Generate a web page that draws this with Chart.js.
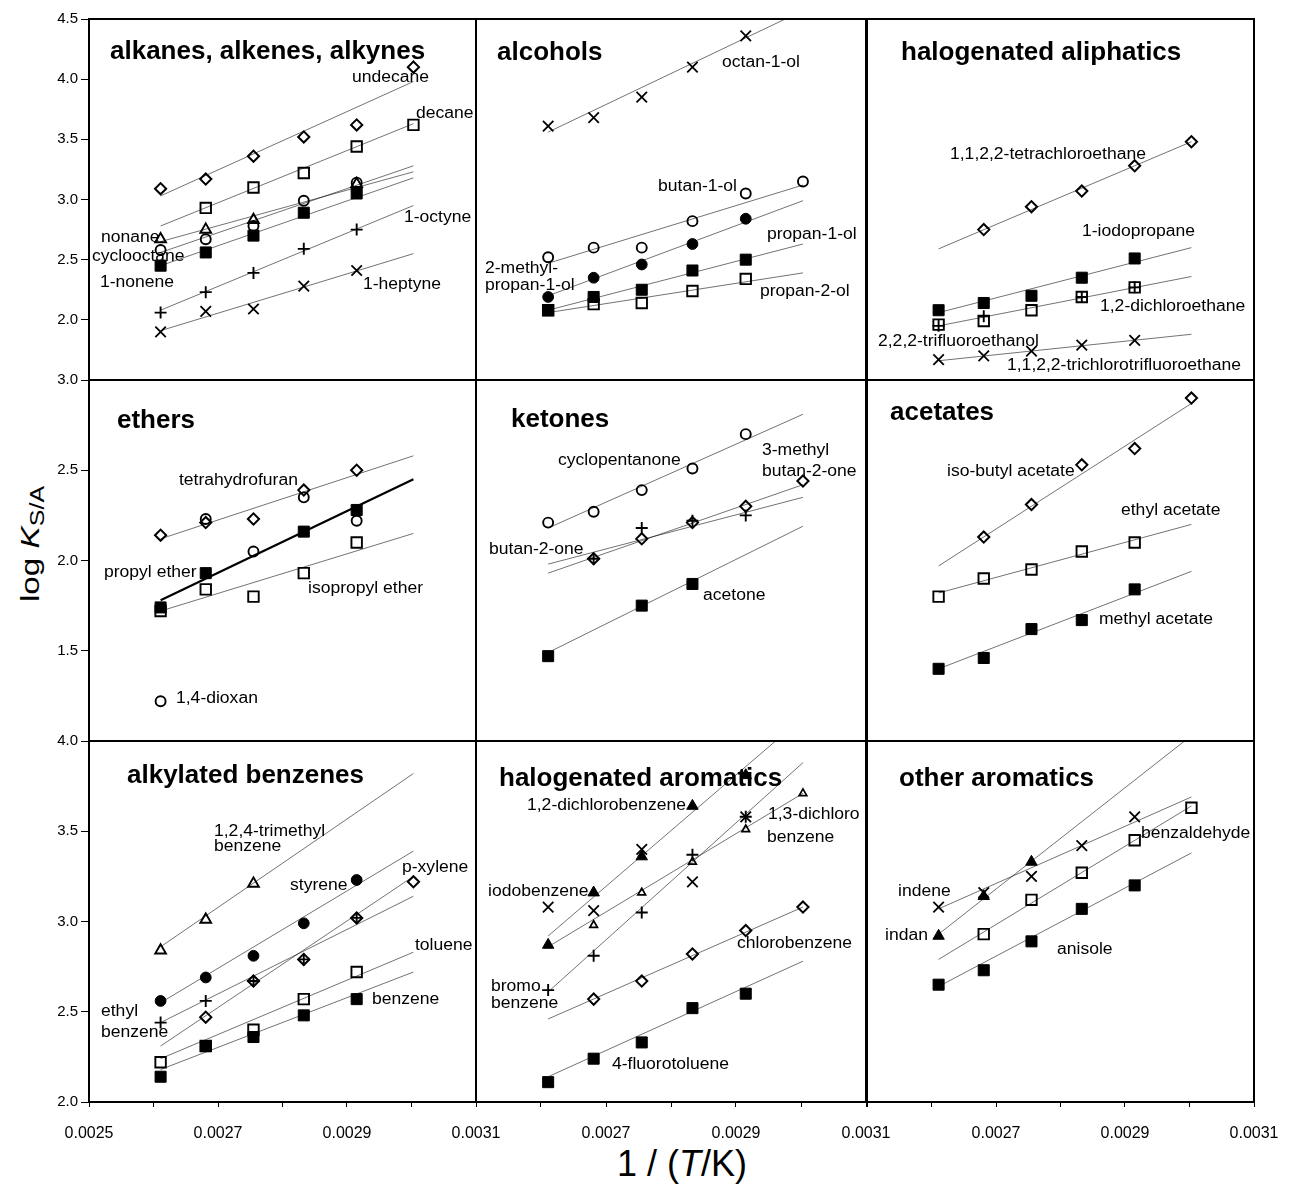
<!DOCTYPE html>
<html>
<head>
<meta charset="utf-8">
<script src="https://cdn.jsdelivr.net/npm/chart.js@4/dist/chart.umd.min.js"></script>
<style>
  body { margin: 0; background: #fff; width: 1289px; height: 1188px; position: relative; overflow: hidden;
         font-family: "Liberation Sans", Arial, sans-serif; color: #000; }
  canvas { position: absolute; }
  #ytitle { position: absolute; left: 32px; top: 544px; font-size: 26px; line-height: 1; white-space: nowrap;
            transform: translate(-50%, -50%) rotate(-90deg) scaleX(1.28); }
  #ytitle sub { font-size: 0.75em; vertical-align: -0.25em; }
  #xtitle { position: absolute; left: 682px; top: 1164px; font-size: 36px; line-height: 1; white-space: nowrap;
            transform: translate(-50%, -50%); }
</style>
</head>
<body>
<div id="ytitle">log <i>K</i><sub>S/A</sub></div>
<div id="xtitle">1 / (<i>T</i>/K)</div>
<script>
/* ── axis values ──────────────────────────────────────────────────── */
// 1/T for the six measuring temperatures (383 K … 333 K)
const invT        = [0.002611, 0.002681, 0.002755, 0.002833, 0.002915, 0.003003];
const xTickValues = [0.0025, 0.0026, 0.0027, 0.0028, 0.0029, 0.0030, 0.0031];
const xTickLabels = ['0.0025', '', '0.0027', '', '0.0029', '', '0.0031'];
const yTicksTop   = [1.5, 2.0, 2.5, 3.0, 3.5, 4.0, 4.5];
const yTicksMid   = [1.0, 1.5, 2.0, 2.5, 3.0];
const yTicksBot   = [2.0, 2.5, 3.0, 3.5, 4.0];

/* ── log K values (null = not measured); fits = [at first T, at last T] ── */
// alkanes, alkenes, alkynes
const undecane       = [3.09, 3.17, 3.36, 3.52, 3.62, 4.10];
const decane         = [null, 2.93, 3.10, 3.22, 3.44, 3.62];
const nonane         = [2.67, 2.75, 2.83, null, 3.13, null];
const cyclooctane    = [2.58, 2.67, 2.78, 2.99, 3.14, null];
const nonene1        = [2.45, 2.56, 2.70, 2.89, 3.05, null];
const octyne1        = [2.06, 2.23, 2.39, 2.59, 2.75, null];
const heptyne1       = [1.90, 2.07, 2.09, 2.28, 2.41, null];
const undecaneFit    = [3.03, 3.98];
const decaneFit      = [2.78, 3.63];
const nonaneFit      = [2.65, 3.23];
const cyclooctaneFit = [2.56, 3.28];
const nonene1Fit     = [2.45, 3.18];
const octyne1Fit     = [2.08, 2.95];
const heptyne1Fit    = [1.91, 2.55];

// alcohols
const octanol1          = [3.61, 3.68, 3.85, 4.10, 4.36, null];
const butanol1          = [2.52, 2.60, 2.60, 2.82, 3.05, 3.15];
const methylpropanol    = [2.19, 2.35, 2.46, 2.63, 2.84, null];
const propanol1         = [2.08, 2.19, 2.25, 2.41, 2.50, null];
const propanol2         = [2.08, 2.13, 2.14, 2.24, 2.34, null];
const octanol1Fit       = [3.56, 4.57];
const butanol1Fit       = [2.47, 3.12];
const methylpropanolFit = [2.20, 2.99];
const propanol1Fit      = [2.08, 2.63];
const propanol2Fit      = [2.06, 2.39];

// halogenated aliphatics
const tetrachloroethane     = [null, 2.75, 2.94, 3.07, 3.28, 3.48];
const iodopropane           = [2.08, 2.14, 2.20, 2.35, 2.51, null];
const dichloroethane        = [1.96, 1.99, 2.08, 2.19, 2.27, null];
const trifluoroethanol      = [1.95, 2.03, null, 2.19, 2.27, null];
const trichlorotrifluoro    = [1.67, 1.70, 1.74, 1.79, 1.83, null];
const tetrachloroethaneFit  = [2.59, 3.48];
const iodopropaneFit        = [2.06, 2.60];
const dichloroethaneFit     = [1.95, 2.36];
const trichlorotrifluoroFit = [1.66, 1.88];

// ethers
const thf               = [2.14, 2.21, 2.23, 2.39, 2.50, null];
const dioxan            = [1.22, 2.23, 2.05, 2.35, 2.22, null];
const propylEther       = [1.74, 1.93, null, 2.16, 2.28, null];
const isopropylEther    = [1.72, 1.84, 1.80, 1.93, 2.10, null];
const thfFit            = [2.12, 2.58];
const propylEtherFit    = [1.78, 2.45];
const isopropylEtherFit = [1.72, 2.15];

// ketones
const cyclopentanone    = [2.21, 2.27, 2.39, 2.51, 2.70, null];
const methylbutanone    = [null, 2.01, 2.12, 2.21, 2.30, 2.44];
const butanone          = [null, 2.01, 2.18, 2.22, 2.25, null];
const acetone           = [1.47, null, 1.75, 1.87, null, null];
const cyclopentanoneFit = [2.18, 2.81];
const methylbutanoneFit = [1.93, 2.42];
const butanoneFit       = [1.98, 2.35];
const acetoneFit        = [1.49, 2.19];

// acetates
const isobutylAcetate    = [null, 2.13, 2.31, 2.53, 2.62, 2.90];
const ethylAcetate       = [1.80, 1.90, 1.95, 2.05, 2.10, null];
const methylAcetate      = [1.40, 1.46, 1.62, 1.67, 1.84, null];
const isobutylAcetateFit = [1.97, 2.87];
const ethylAcetateFit    = [1.82, 2.20];
const methylAcetateFit   = [1.40, 1.94];

// alkylated benzenes
const trimethylbenzene    = [2.84, 3.01, 3.21, null, null, null];
const styrene             = [2.56, 2.69, 2.81, 2.99, 3.23, null];
const ethylbenzene        = [2.44, 2.56, 2.67, 2.79, 3.02, null];
const pXylene             = [null, 2.47, 2.67, 2.79, 3.02, 3.22];
const toluene             = [2.22, 2.31, 2.40, 2.57, 2.72, null];
const benzene             = [2.14, 2.31, 2.36, 2.48, 2.57, null];
const trimethylbenzeneFit = [2.86, 3.82];
const styreneFit          = [2.55, 3.39];
const ethylbenzeneFit     = [2.44, 3.14];
const pXyleneFit          = [2.31, 3.25];
const tolueneFit          = [2.24, 2.83];
const benzeneFit          = [2.18, 2.72];

// halogenated aromatics
const dichlorobenzene12    = [2.87, 3.16, 3.36, 3.64, 3.81, null];
const dichlorobenzene13    = [null, 2.98, 3.16, 3.33, 3.51, 3.71];
const iodobenzene          = [3.08, 3.06, 3.40, 3.22, 3.58, null];
const bromobenzene         = [2.62, 2.81, 3.05, 3.37, 3.58, null];
const chlorobenzene        = [null, 2.57, 2.67, 2.82, 2.95, 3.08];
const fluorotoluene        = [2.11, 2.24, 2.33, 2.52, 2.60, null];
const dichlorobenzene12Fit = [2.92, 4.13];
const dichlorobenzene13Fit = [2.86, 3.71];
const bromobenzeneFit      = [2.61, 3.88];
const chlorobenzeneFit     = [2.46, 3.08];
const fluorotolueneFit     = [2.14, 2.78];

// other aromatics
const indene          = [3.08, 3.16, 3.25, 3.42, 3.58, null];
const indan           = [2.92, 3.14, 3.33, null, null, null];
const benzaldehyde    = [null, 2.93, 3.12, 3.27, 3.45, 3.63];
const anisole         = [2.65, 2.73, 2.89, 3.07, 3.20, null];
const indeneFit       = [3.07, 3.69];
const indanFit        = [2.93, 4.03];
const benzaldehydeFit = [2.79, 3.64];
const anisoleFit      = [2.64, 3.38];

/* ── marker looks ─────────────────────────────────────────────────── */
const MARKS = {
  diamond: { style: 'rectRot',  r: 5.6, bw: 2.0, fill: false },
  square:  { style: 'rect',     r: 7.4, bw: 1.9, fill: false },
  squareF: { style: 'rect',     r: 7.8, bw: 1,   fill: true  },
  circle:  { style: 'circle',   r: 5.0, bw: 1.9, fill: false },
  circleF: { style: 'circle',   r: 5.4, bw: 1,   fill: true  },
  tri:     { style: 'triangle', r: 6.2, bw: 1.9, fill: false },
  triS:    { style: 'triangle', r: 4.4, bw: 1.7, fill: false },
  triF:    { style: 'triangle', r: 6.6, bw: 1,   fill: true  },
  plus:    { style: 'cross',    r: 6.0, bw: 1.9, fill: false },
  ex:      { style: 'crossRot', r: 7.4, bw: 1.8, fill: false }
};

/* ── panels ───────────────────────────────────────────────────────── */
const PANELS = [
  { row: 0, col: 0, title: 'alkanes, alkenes, alkynes', tpos: [21, 33],
    series: [
      { d: undecane, mk: 'diamond', fit: undecaneFit },
      { d: decane, mk: 'square', fit: decaneFit },
      { d: nonane, mk: 'tri', fit: nonaneFit },
      { d: cyclooctane, mk: 'circle', fit: cyclooctaneFit },
      { d: nonene1, mk: 'squareF', fit: nonene1Fit },
      { d: octyne1, mk: 'plus', fit: octyne1Fit },
      { d: heptyne1, mk: 'ex', fit: heptyne1Fit }],
    labels: [['undecane', 263, 59], ['decane', 327, 95], ['1-octyne', 315, 199], ['nonane', 12, 219],
             ['cyclooctane', 3, 238], ['1-nonene', 11, 264], ['1-heptyne', 274, 266]] },
  { row: 0, col: 1, title: 'alcohols', tpos: [21, 34],
    series: [
      { d: octanol1, mk: 'ex', fit: octanol1Fit },
      { d: butanol1, mk: 'circle', fit: butanol1Fit },
      { d: methylpropanol, mk: 'circleF', fit: methylpropanolFit },
      { d: propanol1, mk: 'squareF', fit: propanol1Fit },
      { d: propanol2, mk: 'square', fit: propanol2Fit }],
    labels: [['octan-1-ol', 246, 44], ['butan-1-ol', 182, 168], ['propan-1-ol', 291, 216],
             ['2-methyl-', 9, 250], ['propan-1-ol', 9, 267], ['propan-2-ol', 284, 273]] },
  { row: 0, col: 2, title: 'halogenated aliphatics', tpos: [34, 34],
    series: [
      { d: tetrachloroethane, mk: 'diamond', fit: tetrachloroethaneFit },
      { d: iodopropane, mk: 'squareF', fit: iodopropaneFit },
      { d: trifluoroethanol, mk: 'plus' },
      { d: dichloroethane, mk: 'square', fit: dichloroethaneFit },
      { d: trichlorotrifluoro, mk: 'ex', fit: trichlorotrifluoroFit }],
    labels: [['1,1,2,2-tetrachloroethane', 83, 136], ['1-iodopropane', 215, 213], ['1,2-dichloroethane', 233, 288],
             ['2,2,2-trifluoroethanol', 11, 323], ['1,1,2,2-trichlorotrifluoroethane', 140, 347]] },
  { row: 1, col: 0, title: 'ethers', tpos: [28, 41],
    series: [
      { d: thf, mk: 'diamond', fit: thfFit },
      { d: dioxan, mk: 'circle' },
      { d: propylEther, mk: 'squareF', fit: propylEtherFit, bold: true },
      { d: isopropylEther, mk: 'square', fit: isopropylEtherFit }],
    labels: [['tetrahydrofuran', 90, 101], ['propyl ether', 15, 193], ['isopropyl ether', 219, 209], ['1,4-dioxan', 87, 319]] },
  { row: 1, col: 1, title: 'ketones', tpos: [35, 40],
    series: [
      { d: cyclopentanone, mk: 'circle', fit: cyclopentanoneFit },
      { d: methylbutanone, mk: 'diamond', fit: methylbutanoneFit },
      { d: butanone, mk: 'plus', fit: butanoneFit },
      { d: acetone, mk: 'squareF', fit: acetoneFit }],
    labels: [['cyclopentanone', 82, 81], ['3-methyl', 286, 71], ['butan-2-one', 286, 92],
             ['butan-2-one', 13, 170], ['acetone', 227, 216]] },
  { row: 1, col: 2, title: 'acetates', tpos: [23, 33],
    series: [
      { d: isobutylAcetate, mk: 'diamond', fit: isobutylAcetateFit },
      { d: ethylAcetate, mk: 'square', fit: ethylAcetateFit },
      { d: methylAcetate, mk: 'squareF', fit: methylAcetateFit }],
    labels: [['iso-butyl acetate', 80, 92], ['ethyl acetate', 254, 131], ['methyl acetate', 232, 240]] },
  { row: 2, col: 0, title: 'alkylated benzenes', tpos: [38, 35],
    series: [
      { d: trimethylbenzene, mk: 'tri', fit: trimethylbenzeneFit },
      { d: styrene, mk: 'circleF', fit: styreneFit },
      { d: ethylbenzene, mk: 'plus', fit: ethylbenzeneFit },
      { d: pXylene, mk: 'diamond', fit: pXyleneFit },
      { d: benzene, mk: 'squareF', fit: benzeneFit },
      { d: toluene, mk: 'square', fit: tolueneFit }],
    labels: [['1,2,4-trimethyl', 125, 91], ['benzene', 125, 106], ['styrene', 201, 145], ['p-xylene', 313, 127],
             ['toluene', 326, 205], ['benzene', 283, 259], ['ethyl', 12, 271], ['benzene', 12, 292]] },
  { row: 2, col: 1, title: 'halogenated aromatics', tpos: [23, 38],
    series: [
      { d: dichlorobenzene12, mk: 'triF', fit: dichlorobenzene12Fit },
      { d: iodobenzene, mk: 'ex' },
      { d: bromobenzene, mk: 'plus', fit: bromobenzeneFit },
      { d: dichlorobenzene13, mk: 'triS', fit: dichlorobenzene13Fit },
      { d: chlorobenzene, mk: 'diamond', fit: chlorobenzeneFit },
      { d: fluorotoluene, mk: 'squareF', fit: fluorotolueneFit }],
    labels: [['1,2-dichlorobenzene', 51, 65], ['1,3-dichloro', 292, 74], ['benzene', 291, 97], ['iodobenzene', 12, 151],
             ['bromo', 15, 246], ['benzene', 15, 263], ['chlorobenzene', 261, 203], ['4-fluorotoluene', 136, 324]] },
  { row: 2, col: 2, title: 'other aromatics', tpos: [32, 38],
    series: [
      { d: indene, mk: 'ex', fit: indeneFit },
      { d: indan, mk: 'triF', fit: indanFit },
      { d: benzaldehyde, mk: 'square', fit: benzaldehydeFit },
      { d: anisole, mk: 'squareF', fit: anisoleFit }],
    labels: [['indene', 31, 151], ['indan', 18, 195], ['benzaldehyde', 274, 93], ['anisole', 190, 209]] }
];

/* ── page geometry ────────────────────────────────────────────────── */
const colLeft = [89, 476, 867], colWidth = [387, 390, 387];
const rowTop = [19, 380, 741], rowHeight = [361, 361, 361];
const ML = 70, MT = 12, MR = 34, MB = 55;
const FONT = '"Liberation Sans", Arial, Helvetica, sans-serif';

Chart.defaults.font.family = FONT;
Chart.defaults.color = '#000';

// panel title, compound labels (under the marks) and the black frame
const decoPlugin = {
  id: 'deco',
  beforeDatasetsDraw(chart) {
    const p = PANELS[+chart.canvas.id.slice(1)];
    const a = chart.chartArea, ctx = chart.ctx;
    ctx.save();
    ctx.fillStyle = '#000';
    ctx.textBaseline = 'middle';
    ctx.textAlign = 'left';
    ctx.font = 'bold 26px ' + FONT;
    ctx.fillText(p.title, a.left + p.tpos[0], a.top + p.tpos[1]);
    ctx.font = '15.8px ' + FONT;
    p.labels.forEach(function(l) {
      ctx.save();
      ctx.translate(a.left + l[1], a.top + l[2]);
      ctx.scale(1.11, 1);
      ctx.fillText(l[0], 0, 0);
      ctx.restore();
    });
    ctx.restore();
  },
  afterDatasetsDraw(chart) {
    const a = chart.chartArea, ctx = chart.ctx;
    ctx.save();
    ctx.lineWidth = 2;
    ctx.strokeStyle = '#000';
    ctx.strokeRect(a.left, a.top, a.right - a.left, a.bottom - a.top);
    ctx.restore();
  }
};

function makePanel(p, idx) {
  const c = document.createElement('canvas');
  c.id = 'p' + idx;
  c.width = colWidth[p.col] + ML + MR;
  c.height = rowHeight[p.row] + MT + MB;
  c.style.left = (colLeft[p.col] - ML) + 'px';
  c.style.top = (rowTop[p.row] - MT) + 'px';
  document.body.appendChild(c);

  const yTicks = [yTicksTop, yTicksMid, yTicksBot][p.row];
  const yMin = yTicks[0], yMax = yTicks[yTicks.length - 1];

  const datasets = [];
  // markers first so they sit on top of the fit lines
  p.series.forEach(function(s) {
    const m = MARKS[s.mk];
    const pts = [];
    invT.forEach(function(x, i) { if (s.d[i] !== null) pts.push({ x: x, y: s.d[i] }); });
    datasets.push({
      data: pts,
      showLine: false,
      pointStyle: m.style,
      pointRadius: m.r,
      pointHoverRadius: m.r,
      pointBorderWidth: m.bw,
      pointBorderColor: '#000',
      pointBackgroundColor: m.fill ? '#000' : 'rgba(0,0,0,0)'
    });
  });
  p.series.forEach(function(s) {
    if (!s.fit) return;
    datasets.push({
      data: [{ x: invT[0], y: s.fit[0] }, { x: invT[invT.length - 1], y: s.fit[1] }],
      showLine: true,
      borderColor: s.bold ? '#000' : 'rgba(0,0,0,0.62)',
      borderWidth: s.bold ? 2.2 : 0.9,
      pointRadius: 0,
      pointHoverRadius: 0,
      fill: false
    });
  });

  new Chart(c, {
    type: 'scatter',
    data: { datasets: datasets },
    plugins: [decoPlugin],
    options: {
      responsive: false,
      animation: false,
      events: [],
      layout: { padding: { left: 0, top: MT, right: MR, bottom: 0 } },
      plugins: { legend: { display: false }, tooltip: { enabled: false } },
      scales: {
        x: {
          type: 'linear', min: 0.0025, max: 0.0031,
          afterBuildTicks: function(ax) { ax.ticks = xTickValues.map(function(v) { return { value: v }; }); },
          afterFit: function(ax) { ax.height = MB; ax.paddingLeft = 0; ax.paddingRight = 0; },
          grid: { drawOnChartArea: false, drawTicks: p.row === 2, tickLength: 5, color: '#000', lineWidth: 1 },
          border: { display: false },
          ticks: {
            display: p.row === 2, autoSkip: false, maxRotation: 0, padding: 17,
            font: { size: 16 },
            callback: function(v, i) { return (p.col > 0 && i === 0) ? '' : xTickLabels[i]; }
          }
        },
        y: {
          type: 'linear', min: yMin, max: yMax,
          afterBuildTicks: function(ax) { ax.ticks = yTicks.map(function(v) { return { value: v }; }); },
          afterFit: function(ax) { ax.width = ML; ax.paddingTop = 0; ax.paddingBottom = 0; },
          grid: { drawOnChartArea: false, drawTicks: p.col === 0, tickLength: 8, color: '#000', lineWidth: 1 },
          border: { display: false },
          ticks: {
            display: p.col === 0, padding: 3,
            font: { size: 15 },
            callback: function(v) { return (p.row < 2 && v === yMin) ? '' : v.toFixed(1); }
          }
        }
      }
    }
  });
}

PANELS.forEach(makePanel);
</script>
</body>
</html>
